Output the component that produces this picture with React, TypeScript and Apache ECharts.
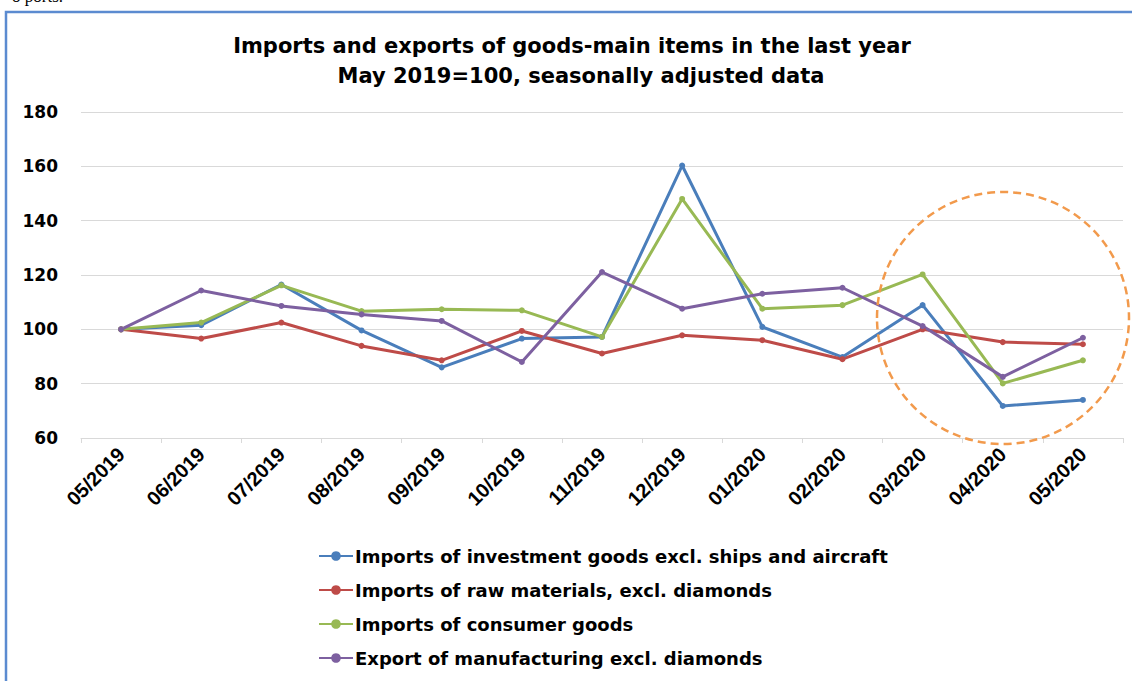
import React, { useEffect, useRef } from "react";
import * as echarts from "echarts";

const categories = ["05/2019", "06/2019", "07/2019", "08/2019", "09/2019", "10/2019", "11/2019", "12/2019", "01/2020", "02/2020", "03/2020", "04/2020", "05/2020"];
const investmentGoods = [100, 101.5, 116.5, 99.6, 86, 96.6, 97.2, 160.3, 100.9, 89.8, 108.9, 71.8, 74];
const rawMaterials = [100, 96.6, 102.5, 93.9, 88.6, 99.4, 91.1, 97.8, 96, 89, 100, 95.3, 94.5];
const consumerGoods = [100, 102.5, 116.2, 106.7, 107.4, 107, 97.2, 148, 107.6, 108.9, 120.2, 80.1, 88.6];
const manufacturingExport = [100, 114.3, 108.6, 105.5, 103.1, 88, 121.1, 107.6, 113.1, 115.3, 101.2, 82.5, 96.9];
const seriesNames = [
  "Imports of investment goods excl. ships and aircraft",
  "Imports of raw materials, excl. diamonds",
  "Imports of consumer goods",
  "Export of manufacturing excl. diamonds",
];
const seriesColors = ["#4A7EBB", "#BE4B48", "#98B954", "#7D60A0"];
const titleLines = ["Imports and exports of goods-main items in the last year", "May 2019=100, seasonally adjusted data"];

const FONT = "'DejaVu Sans', 'Noto Sans', sans-serif";

export default function App() {
  const ref = useRef<HTMLDivElement>(null);
  useEffect(() => {
    if (!ref.current) return;
    const chart = echarts.init(ref.current, undefined, { renderer: "svg" });
    const data = [investmentGoods, rawMaterials, consumerGoods, manufacturingExport];
    chart.setOption({
      animation: false,
      backgroundColor: "#ffffff",
      title: [
        { text: titleLines[0], left: 567, top: 30, textAlign: "center", textStyle: { fontFamily: FONT, fontWeight: "bold", fontSize: 21, color: "#000" } },
        { text: titleLines[1], left: 576, top: 60, textAlign: "center", textStyle: { fontFamily: FONT, fontWeight: "bold", fontSize: 21, color: "#000" } },
      ],
      grid: { left: 81, right: 9, top: 112, bottom: 243, containLabel: false },
      xAxis: {
        type: "category",
        data: categories,
        boundaryGap: true,
        axisLine: { show: true, lineStyle: { color: "#d9d9d9", width: 1 } },
        axisTick: { show: true, length: 5, lineStyle: { color: "#d9d9d9" } },
        axisLabel: { rotate: 45, interval: 0, margin: 13, fontFamily: "'Liberation Sans', Arial, sans-serif", fontWeight: "bold", fontSize: 20, color: "#000" },
      },
      yAxis: {
        type: "value",
        min: 60,
        max: 180,
        interval: 20,
        axisLine: { show: false },
        axisTick: { show: false },
        splitLine: { lineStyle: { color: "#d9d9d9", width: 1 } },
        axisLabel: { margin: 23, fontFamily: FONT, fontWeight: "bold", fontSize: 17, color: "#000" },
      },
      legend: {
        orient: "vertical",
        left: 313,
        top: 542,
        itemWidth: 34,
        itemHeight: 12,
        itemGap: 16,
        data: seriesNames,
        textStyle: { fontFamily: FONT, fontWeight: "bold", fontSize: 18, color: "#000", padding: [0, 0, 0, -3] },
      },
      series: seriesNames.map((name, i) => ({
        name,
        type: "line",
        data: data[i],
        color: seriesColors[i],
        symbol: "circle",
        symbolSize: 6,
        lineStyle: { width: 3, color: seriesColors[i] },
        itemStyle: { color: seriesColors[i] },
      })),
      graphic: [
        { type: "rect", shape: { x: 6, y: 12, width: 1200, height: 720 }, style: { fill: "none", stroke: "#5B8BD0", lineWidth: 2.5 }, silent: true },
        { type: "text", x: 12, y: -12, style: { text: "o ports.", font: "17px 'Liberation Serif', serif", fill: "#000" }, silent: true },
        { type: "ellipse", shape: { cx: 1003, cy: 318, rx: 126, ry: 126 }, style: { fill: "none", stroke: "#F29A4C", lineWidth: 2.5, lineDash: [8, 5] }, silent: true, z: 10 },
      ],
    });
    return () => chart.dispose();
  }, []);
  return <div ref={ref} style={{ position: "absolute", left: 0, top: 0, width: 1132, height: 681 }} />;
}
